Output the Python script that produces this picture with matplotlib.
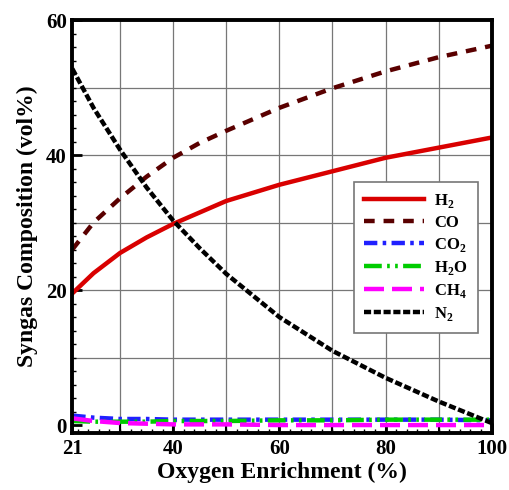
import matplotlib
matplotlib.use("Agg")
from matplotlib import pyplot as plt
from matplotlib.ticker import MultipleLocator, FixedLocator

plt.rcParams['font.family'] = ['Liberation Serif', 'DejaVu Serif']
plt.rcParams['font.weight'] = 'bold'
plt.rcParams['mathtext.fontset'] = 'custom'
plt.rcParams['mathtext.rm'] = 'Liberation Serif:bold'
plt.rcParams['mathtext.bf'] = 'Liberation Serif:bold'

# oxygen enrichment (%)
enrich = [21, 25, 30, 35, 40, 45, 50, 60, 70, 80, 90, 100]

h2 = [19.5, 22.5, 25.5, 27.8, 29.8, 31.5, 33.2, 35.6, 37.6, 39.6, 41.1, 42.6]
co = [26.0, 30.0, 33.6, 36.8, 39.6, 41.8, 43.6, 47.0, 49.9, 52.4, 54.5, 56.2]
co2 = [1.4, 1.1, 0.9, 0.9, 0.8, 0.8, 0.8, 0.8, 0.8, 0.8, 0.8, 0.7]
h2o = [0.6, 0.5, 0.5, 0.5, 0.6, 0.6, 0.6, 0.7, 0.7, 0.8, 0.8, 0.8]
ch4 = [1.0, 0.6, 0.3, 0.2, 0.1, 0.1, 0.1, 0.0, 0.0, 0.0, 0.0, 0.0]
n2 = [52.8, 47.0, 40.8, 35.2, 30.3, 26.2, 22.4, 16.0, 11.0, 7.0, 3.5, 0.3]

fig, ax = plt.subplots(figsize=(5.09, 4.90), dpi=100)
fig.subplots_adjust(left=0.142, right=0.966, top=0.959, bottom=0.116)

ax.plot(enrich, h2, color="#d90000", lw=3.2, label="H$_2$")
ax.plot(enrich, co, color="#5a0000", lw=3.2, dashes=(2.4, 2.0), label="CO")
ax.plot(enrich, co2, color="#2020ff", lw=3.2, dashes=(3, 1.2, 0.8, 1.2), label="CO$_2$")
ax.plot(enrich, h2o, color="#00cc00", lw=3.2, dashes=(4, 1.2, 0.6, 1.2, 0.6, 1.2), label="H$_2$O")
ax.plot(enrich, ch4, color="#ff00ff", lw=3.2, dashes=(4.5, 1.8), label="CH$_4$")
ax.plot(enrich, n2, color="black", lw=3.2, dashes=(1.6, 0.6), label="N$_2$")

ax.set_xlim(21, 100)
ax.set_ylim(-1.2, 60)
ax.xaxis.set_major_locator(FixedLocator([21, 40, 60, 80, 100]))
ax.yaxis.set_major_locator(MultipleLocator(20))
ax.xaxis.set_minor_locator(MultipleLocator(2))
ax.yaxis.set_minor_locator(MultipleLocator(2))

for x in range(30, 100, 10):
    ax.axvline(x, color="#777777", lw=0.9, zorder=0)
    ax.plot([x, x], [-1.2, 0.2], color="black", lw=1.5, zorder=1)
for y in range(10, 60, 10):
    ax.axhline(y, color="#777777", lw=0.9, zorder=0)

ax.tick_params(which="major", direction="in", length=7, width=2, labelsize=15, pad=4)
ax.tick_params(which="minor", direction="in", length=3, width=1)
for s in ax.spines.values():
    s.set_linewidth(2.8)

ax.set_xlabel("Oxygen Enrichment (%)", fontsize=17, fontweight="bold", labelpad=2)
ax.set_ylabel("Syngas Composition (vol%)", fontsize=17, fontweight="bold", labelpad=6)

leg = ax.legend(loc="center", bbox_to_anchor=(0.82, 0.426), fontsize=12,
                frameon=True, fancybox=False, edgecolor="#777777", framealpha=1,
                handlelength=3.6, handletextpad=0.6, borderpad=0.6,
                labelspacing=0.3)
leg.get_frame().set_linewidth(1.2)

fig.savefig("out.png", dpi=100)
